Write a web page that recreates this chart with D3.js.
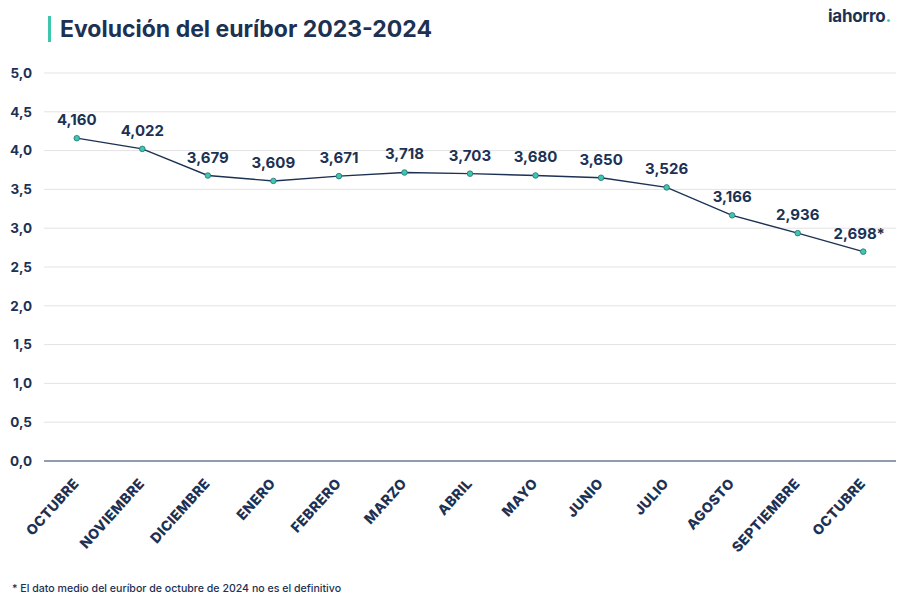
<!DOCTYPE html>
<html><head><meta charset="utf-8">
<script src="https://cdn.jsdelivr.net/npm/d3@7"></script>
<style>body{margin:0;background:#fff;} svg{display:block;font-family:Inter, "Open Sans", sans-serif;}</style>
</head><body>
<svg id="c" width="900" height="600"></svg>
<script>
const months = ["OCTUBRE","NOVIEMBRE","DICIEMBRE","ENERO","FEBRERO","MARZO","ABRIL","MAYO","JUNIO","JULIO","AGOSTO","SEPTIEMBRE","OCTUBRE"];
const values = [4.160,4.022,3.679,3.609,3.671,3.718,3.703,3.680,3.650,3.526,3.166,2.936,2.698];
const valueLabels = ["4,160","4,022","3,679","3,609","3,671","3,718","3,703","3,680","3,650","3,526","3,166","2,936","2,698*"];
const yTicks = [0,0.5,1,1.5,2,2.5,3,3.5,4,4.5,5];

const navy = "#1d3153", teal = "#3ec7ad";
const svg = d3.select("#c");
const idx = months.map((d,i)=>i);
const x = d3.scaleBand().domain(idx).range([44,896]);
const y = d3.scaleLinear().domain([0,5]).range([461,73]);

// grid
svg.append("g").selectAll("line").data(yTicks).join("line")
  .attr("x1",44).attr("x2",896)
  .attr("y1",d=>y(d)).attr("y2",d=>y(d))
  .attr("stroke",d=>d===0?"#6b7a90":"#e3e3e3").attr("stroke-width",d=>d===0?1.3:1);

// y labels
svg.append("g").selectAll("text").data(yTicks).join("text")
  .attr("x",32).attr("y",d=>y(d)).attr("dy","0.35em")
  .attr("text-anchor","end").attr("font-size",13.5).attr("font-weight",700).attr("fill",navy)
  .text(d=>d3.format(".1f")(d).replace(".",","));

const cx = i=>x(i)+x.bandwidth()/2;

// x labels
svg.append("g").selectAll("text").data(idx).join("text")
  .attr("transform",i=>`translate(${cx(i)+3},${484}) rotate(-48)`)
  .attr("text-anchor","end").attr("font-size",14).attr("font-weight",800)
  .attr("letter-spacing","0.4").attr("fill",navy)
  .text(i=>months[i]);

svg.append("path").datum(idx)
  .attr("d",d3.line().x(cx).y(i=>y(values[i])))
  .attr("fill","none").attr("stroke",navy).attr("stroke-width",1.4);

svg.append("g").selectAll("circle").data(idx).join("circle")
  .attr("cx",cx).attr("cy",i=>y(values[i])).attr("r",2.8)
  .attr("fill",teal).attr("stroke","#2a6f75").attr("stroke-width",0.8);

svg.append("g").selectAll("text").data(idx).join("text")
  .attr("x",i=>cx(i)+(i===12?-4:0)).attr("y",i=>y(values[i])-13)
  .attr("text-anchor","middle").attr("font-size",15).attr("font-weight",700).attr("fill",navy)
  .text(i=>valueLabels[i]);

// title
svg.append("rect").attr("x",48).attr("y",16).attr("width",3).attr("height",26).attr("fill",teal);
svg.append("text").attr("x",60).attr("y",37).attr("font-size",23).attr("font-weight",700).attr("fill",navy)
  .text("Evolución del euríbor 2023-2024");

// logo
const logo = svg.append("text").attr("x",828).attr("y",22).attr("font-size",17).attr("font-weight",700).attr("fill",navy).attr("letter-spacing","-0.3");
logo.append("tspan").text("iahorro");
logo.append("tspan").attr("fill",teal).text(".");

// footnote
svg.append("text").attr("x",12).attr("y",592).attr("font-size",10.6).attr("font-weight",500).attr("fill",navy)
  .text("* El dato medio del euríbor de octubre de 2024 no es el definitivo");
</script>
</body></html>
